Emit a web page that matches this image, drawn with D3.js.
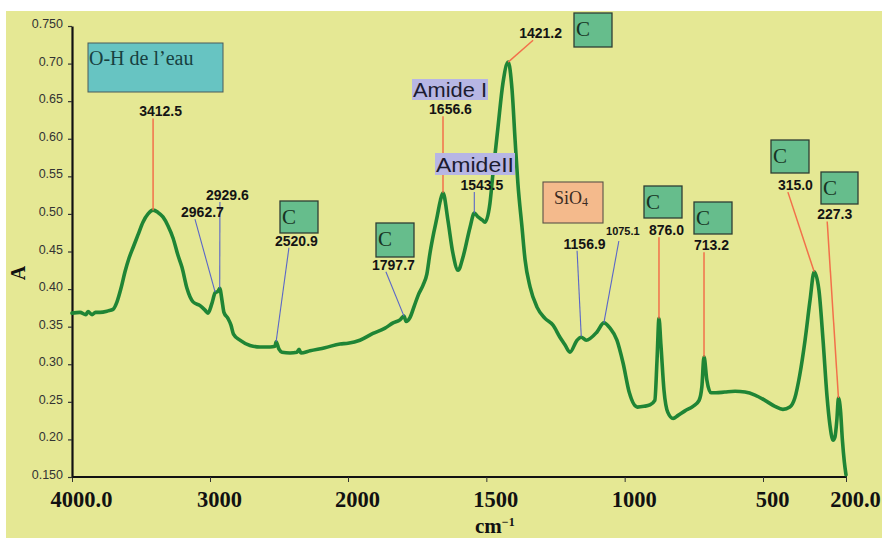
<!DOCTYPE html>
<html>
<head>
<meta charset="utf-8">
<script src="https://cdn.jsdelivr.net/npm/d3@7"></script>
<style>
  html, body { margin: 0; padding: 0; background: #ffffff; }
  svg { display: block; }
</style>
</head>
<body>
<div id="chart"></div>
<script>
// ---------------- DATA ----------------
const wavenumber = [4000, 3942, 3900, 3884, 3855, 3830, 3797, 3739, 3703, 3674, 3645, 3616, 3587, 3558, 3522, 3486, 3449, 3412.5, 3377, 3341, 3304, 3268, 3232, 3203, 3167, 3123, 3072, 3036, 3015, 2986, 2962.7, 2942, 2929.6, 2913, 2899, 2870, 2848, 2830, 2783, 2710, 2638, 2565, 2529, 2520.9, 2500, 2478, 2420, 2370, 2355, 2341, 2275, 2167, 2058, 2000, 1957, 1910, 1866, 1837, 1812, 1797.7, 1790, 1776, 1760, 1745, 1729, 1715, 1704, 1690, 1678, 1666, 1656.6, 1639, 1621, 1602, 1584, 1559, 1543.5, 1530, 1515, 1505, 1487, 1476, 1458, 1440, 1421.2, 1407, 1396, 1386, 1371, 1360, 1342, 1317, 1288, 1259, 1234, 1216, 1198, 1172, 1156.9, 1139, 1100, 1075.1, 1053, 1028, 1006, 983, 954, 930, 909, 891, 883, 876.0, 869, 858, 844, 825, 807, 782, 753, 731, 721, 713.2, 703, 688, 670, 638, 601, 565, 529, 493, 457, 428, 403, 385, 367, 348, 330, 315.0, 298, 283, 269, 258, 247, 240, 233, 227.3, 220, 213, 206, 200];
const absorbance = [0.368, 0.369, 0.366, 0.370, 0.366, 0.369, 0.369, 0.371, 0.373, 0.383, 0.401, 0.423, 0.441, 0.455, 0.472, 0.489, 0.500, 0.505, 0.502, 0.496, 0.484, 0.468, 0.445, 0.429, 0.401, 0.383, 0.378, 0.372, 0.368, 0.381, 0.395, 0.397, 0.401, 0.385, 0.369, 0.361, 0.352, 0.340, 0.332, 0.325, 0.323, 0.323, 0.324, 0.330, 0.320, 0.316, 0.315, 0.316, 0.320, 0.315, 0.318, 0.322, 0.327, 0.328, 0.332, 0.341, 0.348, 0.355, 0.359, 0.364, 0.357, 0.362, 0.378, 0.393, 0.405, 0.420, 0.447, 0.475, 0.496, 0.518, 0.528, 0.492, 0.448, 0.425, 0.443, 0.482, 0.501, 0.496, 0.492, 0.489, 0.514, 0.554, 0.615, 0.674, 0.702, 0.665, 0.598, 0.541, 0.482, 0.439, 0.403, 0.376, 0.361, 0.352, 0.336, 0.326, 0.316, 0.332, 0.336, 0.332, 0.343, 0.355, 0.348, 0.332, 0.302, 0.262, 0.243, 0.244, 0.246, 0.252, 0.306, 0.361, 0.326, 0.266, 0.236, 0.228, 0.232, 0.238, 0.244, 0.252, 0.270, 0.310, 0.279, 0.262, 0.262, 0.263, 0.264, 0.263, 0.259, 0.252, 0.244, 0.240, 0.243, 0.255, 0.286, 0.332, 0.385, 0.423, 0.399, 0.332, 0.259, 0.219, 0.199, 0.203, 0.226, 0.255, 0.239, 0.199, 0.170, 0.153];

const xTickValues = [4000, 3000, 2000, 1500, 1000, 500, 200];
const xTickLabels = ["4000.0", "3000", "2000", "1500", "1000", "500", "200.0"];
const yTickValues = [0.15, 0.20, 0.25, 0.30, 0.35, 0.40, 0.45, 0.50, 0.55, 0.60, 0.65, 0.70, 0.75];
const yTickLabels = ["0.150", "0.20", "0.25", "0.30", "0.35", "0.40", "0.45", "0.50", "0.55", "0.60", "0.65", "0.70", "0.750"];

// peak annotations (data space)
const peakLabels   = ["3412.5", "2962.7", "2929.6", "2520.9", "1797.7", "1656.6", "1543.5", "1421.2", "1156.9", "1075.1", "876.0", "713.2", "315.0", "227.3"];
const peakWn       = [3412.5, 2962.7, 2929.6, 2520.9, 1797.7, 1656.6, 1543.5, 1421.2, 1156.9, 1075.1, 876.0, 713.2, 315.0, 227.3];
const peakAbs      = [0.505, 0.396, 0.401, 0.330, 0.364, 0.528, 0.501, 0.702, 0.337, 0.355, 0.361, 0.310, 0.423, 0.255];
const leaderTopWn  = [3412.5, 3109, 2928, 2428, 1863, 1656.6, 1543.5, 1331, 1172, 1021, 876.0, 713.2, 410, 268];
const leaderTopAbs = [0.627, 0.493, 0.516, 0.455, 0.423, 0.630, 0.529, 0.731, 0.451, 0.464, 0.469, 0.449, 0.529, 0.490];
const peakGroup    = ["strong", "weak", "weak", "weak", "weak", "strong", "weak", "strong", "weak", "weak", "strong", "strong", "strong", "strong"];

// assignment boxes
const boxTexts = ["O-H de l\u2019eau", "C", "C", "C", "C", "C", "C", "C", "Amide I", "AmideII", "SiO"];
const boxKinds = ["oh", "c", "c", "c", "c", "c", "c", "c", "amide", "amide", "sio"];

// ---------------- LAYOUT ----------------
const W = 884, H = 538;
const boxLayout = [
  {x: 88,  y: 43,  w: 135, h: 49},
  {x: 574, y: 13,  w: 38,  h: 34},
  {x: 280, y: 201, w: 38,  h: 32},
  {x: 376, y: 223, w: 38,  h: 34},
  {x: 644, y: 186, w: 38,  h: 32},
  {x: 694, y: 202, w: 38,  h: 32},
  {x: 771, y: 140, w: 38,  h: 33},
  {x: 821, y: 172, w: 37,  h: 32},
  {x: 412, y: 79,  w: 76,  h: 21},
  {x: 435, y: 153, w: 80,  h: 22},
  {x: 543, y: 182, w: 60,  h: 41}
];

const svg = d3.select("#chart").append("svg")
  .attr("width", W).attr("height", H);

svg.append("rect").attr("x", 0).attr("y", 0).attr("width", W).attr("height", H).attr("fill", "#ffffff");
svg.append("rect").attr("x", 6).attr("y", 11).attr("width", 876).attr("height", H - 11).attr("fill", "#e5e894");

const x = d3.scaleLinear().domain([4000, 2000, 200]).range([72, 348, 846]);
const y = d3.scaleLinear().domain([0.15, 0.75]).range([477, 26]);

// axes
const xAxis = d3.axisBottom(x).tickValues(xTickValues)
  .tickFormat((d, i) => xTickLabels[i]).tickSize(5).tickSizeOuter(0);
const gx = svg.append("g").attr("transform", `translate(0,${y(0.15)})`).call(xAxis);
gx.select(".domain").attr("stroke", "#111").attr("stroke-width", 2.2)
  .attr("d", `M${x(4000)},0H${x(200) + 1}`);
gx.selectAll(".tick line").attr("stroke", "#333").attr("stroke-width", 1);
gx.selectAll(".tick text")
  .attr("y", 30).attr("dy", 0).attr("dx", 9)
  .attr("fill", "#111")
  .style("font-family", "'Liberation Serif', 'Times New Roman', serif")
  .style("font-weight", "bold").style("font-size", "22.5px");

const yAxis = d3.axisLeft(y).tickValues(yTickValues)
  .tickFormat((d, i) => yTickLabels[i]).tickSize(4).tickSizeOuter(0);
const gy = svg.append("g").attr("transform", `translate(${x(4000)},0)`).call(yAxis);
gy.select(".domain").attr("stroke", "#111").attr("stroke-width", 2.2);
gy.selectAll(".tick line").attr("stroke", "#333").attr("stroke-width", 1.2);
gy.selectAll(".tick text")
  .attr("x", -9).attr("dy", "0.12em")
  .attr("fill", "#333")
  .style("font-family", "'Liberation Sans Narrow', 'Liberation Sans', Arial, sans-serif")
  .style("font-size", "12.5px");

// axis titles
svg.append("text")
  .attr("transform", `translate(25,273) rotate(-90)`)
  .attr("text-anchor", "middle")
  .style("font-family", "'Liberation Serif', 'Times New Roman', serif")
  .style("font-weight", "bold").style("font-size", "20px")
  .attr("fill", "#111").text("A");

const xt = svg.append("text")
  .attr("x", 475).attr("y", 533)
  .style("font-family", "'Liberation Serif', 'Times New Roman', serif")
  .style("font-weight", "bold").style("font-size", "21px")
  .attr("fill", "#111");
xt.append("tspan").text("cm");
xt.append("tspan").attr("dy", -7).style("font-size", "12px").text("\u22121");

// spectrum
const idx = d3.range(wavenumber.length);
const line = d3.line()
  .x(i => x(wavenumber[i]))
  .y(i => y(absorbance[i]))
  .curve(d3.curveMonotoneX);
svg.append("path").datum(idx)
  .attr("d", line)
  .attr("fill", "none")
  .attr("stroke", "#1f8535")
  .attr("stroke-width", 3.6)
  .attr("stroke-linejoin", "round")
  .attr("stroke-linecap", "round");

// leader lines
const leaders = svg.append("g");
peakWn.forEach((wn, i) => {
  leaders.append("line")
    .attr("x1", x(leaderTopWn[i])).attr("y1", y(leaderTopAbs[i]))
    .attr("x2", x(wn)).attr("y2", y(peakAbs[i]))
    .attr("stroke", peakGroup[i] === "strong" ? "#f2704a" : "#5a66c8")
    .attr("stroke-width", peakGroup[i] === "strong" ? 1.5 : 1.1);
});

// boxes
const boxStyle = {
  oh:    {fill: "#67c4c2", stroke: "#4a5a5a", sw: 1},
  c:     {fill: "#66bd8c", stroke: "#2e3e34", sw: 1.3},
  amide: {fill: "#b7b6e4", stroke: "none", sw: 0},
  sio:   {fill: "#f4ba8c", stroke: "#5a5048", sw: 1.1}
};
const boxes = svg.append("g");
boxTexts.forEach((t, i) => {
  const b = boxLayout[i], s = boxStyle[boxKinds[i]];
  boxes.append("rect").attr("x", b.x).attr("y", b.y).attr("width", b.w).attr("height", b.h)
    .attr("fill", s.fill).attr("stroke", s.stroke).attr("stroke-width", s.sw);
  if (boxKinds[i] === "oh") {
    boxes.append("text").attr("x", b.x + 1).attr("y", b.y + 22)
      .style("font-family", "'Liberation Serif', 'Times New Roman', serif")
      .style("font-size", "20px").attr("fill", "#17403f").text(t);
  } else if (boxKinds[i] === "c") {
    boxes.append("text").attr("x", b.x + 2).attr("y", b.y + 23)
      .style("font-family", "'Liberation Serif', 'Times New Roman', serif")
      .style("font-size", "21px").attr("fill", "#173322").text(t);
  } else if (boxKinds[i] === "amide") {
    boxes.append("text").attr("x", b.x + b.w / 2).attr("y", b.y + b.h - 3)
      .attr("text-anchor", "middle")
      .attr("textLength", b.w - 2).attr("lengthAdjust", "spacingAndGlyphs")
      .style("font-family", "'Liberation Sans', Arial, sans-serif")
      .style("font-size", "20px").attr("fill", "#1c1c30").text(t);
  } else {
    const st = boxes.append("text").attr("x", b.x + 11).attr("y", b.y + 22)
      .style("font-family", "'Liberation Serif', 'Times New Roman', serif")
      .style("font-size", "18px").attr("fill", "#3a2a22");
    st.append("tspan").text(t);
    st.append("tspan").attr("dy", 2).style("font-size", "12px").text("4");
  }
});

// peak labels (drawn last, on top)
const labels = svg.append("g");
peakWn.forEach((wn, i) => {
  const small = peakLabels[i] === "1075.1";
  labels.append("text")
    .attr("x", x(leaderTopWn[i]) + (small ? 4 : 7.5))
    .attr("y", y(leaderTopAbs[i]) + (small ? -6 : -2))
    .attr("text-anchor", "middle")
    .style("font-family", "'Liberation Sans', Arial, sans-serif")
    .style("font-weight", "bold")
    .style("font-size", small ? "11px" : "14px")
    .attr("fill", "#141414")
    .text(peakLabels[i]);
});
</script>
</body>
</html>
